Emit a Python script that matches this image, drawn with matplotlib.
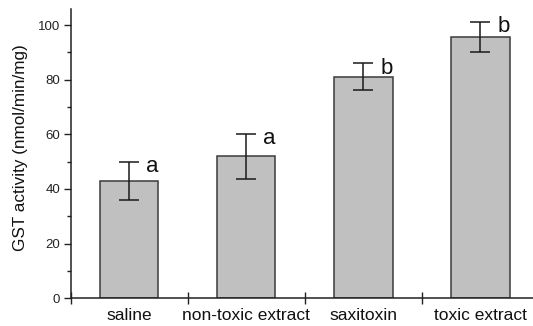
import matplotlib
matplotlib.use("Agg")
import matplotlib.pyplot as plt
import numpy as np

categories = ["saline", "non-toxic extract", "saxitoxin", "toxic extract"]
means = [43.0, 51.9, 81.1, 95.7]
errors = [7.0, 8.3, 4.9, 5.4]
letters = ["a", "a", "b", "b"]
yticks = [0, 20, 40, 60, 80, 100]

plt.rcParams['font.family'] = ['Liberation Sans', 'DejaVu Sans']

fig = plt.figure(figsize=(5.33, 3.26), dpi=100)
W, H = 533, 326
left, right = 70.5, 533
bottom, top = 298.3, 9
ax = fig.add_axes([left / W, 1 - bottom / H, (right - left) / W, (bottom - top) / H])

x = np.arange(len(categories))
ax.bar(x, means, width=0.5, color="#c0c0c0", edgecolor="#3a3a3a", linewidth=1.1, zorder=2)
ax.errorbar(x, means, yerr=errors, fmt="none", ecolor="#1a1a1a", elinewidth=1.1,
            capsize=7.5, capthick=1.1, zorder=3)
for xi, m, e, l in zip(x, means, errors, letters):
    ax.text(xi + 0.145, m + e - 3.8, l, fontsize=16, ha="left", va="baseline", color="#111111")

ax.set_xlim(-0.5, -0.5 + (right - left) / 117.1)
ax.set_ylim(0, (bottom - top) / 2.733)

ax.spines['top'].set_visible(False)
ax.spines['right'].set_visible(False)
for s in ('left', 'bottom'):
    ax.spines[s].set_linewidth(1.1)
    ax.spines[s].set_color("#222222")

ax.set_yticks(yticks)
ax.set_yticks(np.arange(10, 101, 20), minor=True)
ax.tick_params(axis='y', which='major', direction='out', length=5, width=1.0, labelsize=9.5,
               pad=2.5, colors="#222222")
ax.tick_params(axis='y', which='minor', direction='out', length=3, width=1.0, colors="#222222")

ax.set_xticks(x)
ax.set_xticklabels(categories)
ax.set_xticks(np.arange(-0.5, 3.5, 1.0), minor=True)
ax.tick_params(axis='x', which='major', length=0, labelsize=12.5, pad=7, colors="#111111")
ax.tick_params(axis='x', which='minor', direction='inout', length=8, width=1.0, colors="#222222")

fig.text(21 / W, 1 - 147.5 / H, "GST activity (nmol/min/mg)", rotation=90,
         ha="center", va="center", fontsize=12.3, color="#111111")

fig.savefig("out.png", dpi=100)
